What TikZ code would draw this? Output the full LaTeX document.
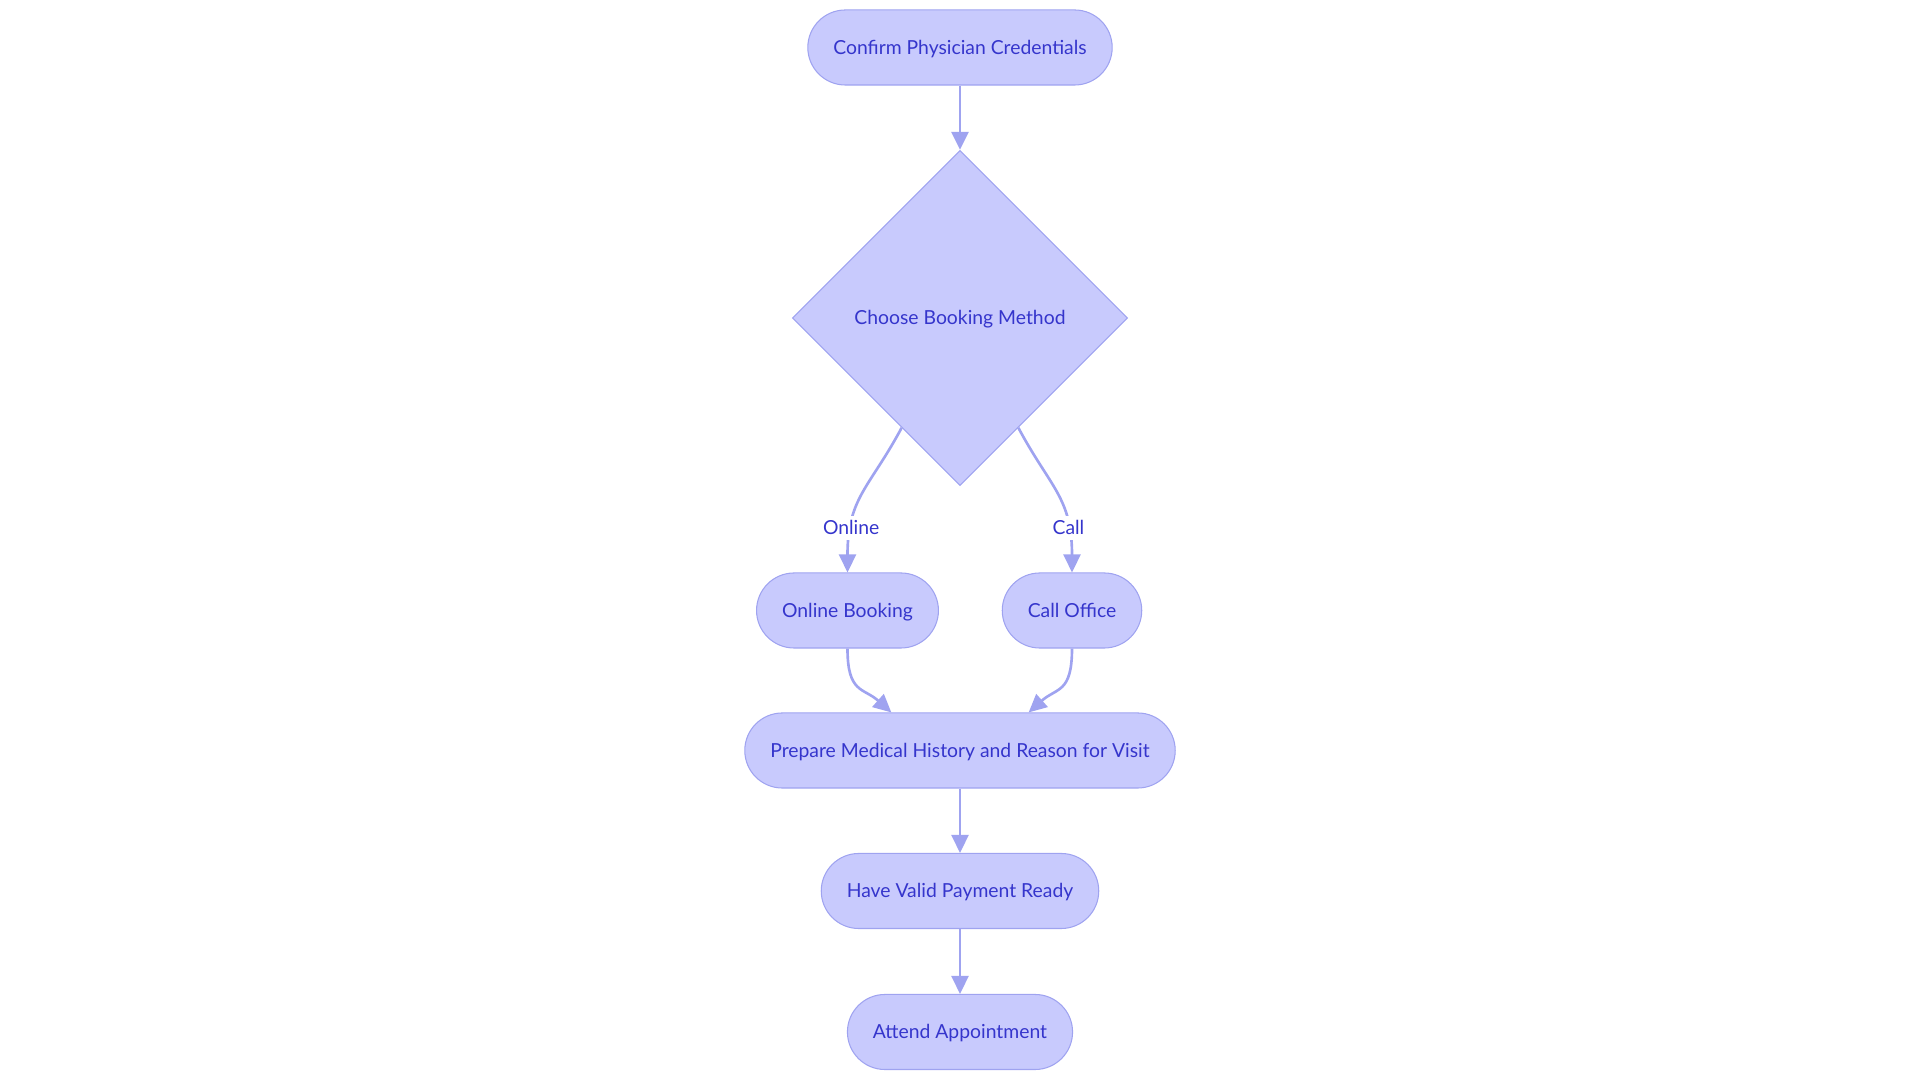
\documentclass[tikz,border=0pt]{standalone}
\usepackage{fontspec}
\setmainfont{Lato}
\usetikzlibrary{shapes.geometric,arrows.meta}
\definecolor{boxfill}{HTML}{C8CAFD}
\definecolor{boxline}{HTML}{9FA3F0}
\definecolor{boxtext}{HTML}{3535CC}
\begin{document}
\begin{tikzpicture}[x=0.01cm,y=-0.01cm,>={Triangle[length=0.18cm,width=0.17cm]},
	stadium/.style={rectangle,rounded corners=0.375cm,draw=boxline,line width=0.3pt,fill=boxfill,
		text=boxtext,minimum height=0.75cm,inner xsep=0.255cm,inner ysep=0pt,
		text height=4.9pt,text depth=1.1pt,font=\fontsize{5.5pt}{6.6pt}\selectfont},
	decision/.style={diamond,draw=boxline,line width=0.3pt,fill=boxfill,text=boxtext,
		minimum width=3.35cm,minimum height=3.35cm,inner sep=0pt,
		text height=4.9pt,text depth=1.1pt,font=\fontsize{5.5pt}{6.6pt}\selectfont},
	edge/.style={->,draw=boxline,line width=0.75pt},
	lbl/.style={fill=white,text=boxtext,inner xsep=1pt,inner ysep=0.5pt,text height=4.9pt,
		text depth=1.1pt,font=\fontsize{5.5pt}{6.6pt}\selectfont}]
	\useasboundingbox (0,0) rectangle (1920,1083);

	\node[stadium] (confirm) at (960,47.5) {Confirm Physician Credentials};
	\node[decision] (choose) at (960,318) {Choose Booking Method};
	\node[stadium] (online) at (847.5,610.5) {Online Booking};
	\node[stadium] (call) at (1072,610.5) {Call Office};
	\node[stadium] (prepare) at (960,750.5) {Prepare Medical History and Reason for Visit};
	\node[stadium] (payment) at (960,891) {Have Valid Payment Ready};
	\node[stadium] (attend) at (960,1032) {Attend Appointment};

	\draw[edge] (confirm) -- (choose);
	\draw[edge] (choose.-118) .. controls +(-32,60) and +(0,-75) .. (online.north)
		node[lbl,pos=0.76] {Online};
	\draw[edge] (choose.-62) .. controls +(32,60) and +(0,-75) .. (call.north)
		node[lbl,pos=0.76] {Call};
	\draw[edge] (online.south) .. controls +(0,45) and +(-28,-25) .. (prepare.151);
	\draw[edge] (call.south) .. controls +(0,45) and +(28,-25) .. (prepare.29);
	\draw[edge] (prepare) -- (payment);
	\draw[edge] (payment) -- (attend);
\end{tikzpicture}
\end{document}
